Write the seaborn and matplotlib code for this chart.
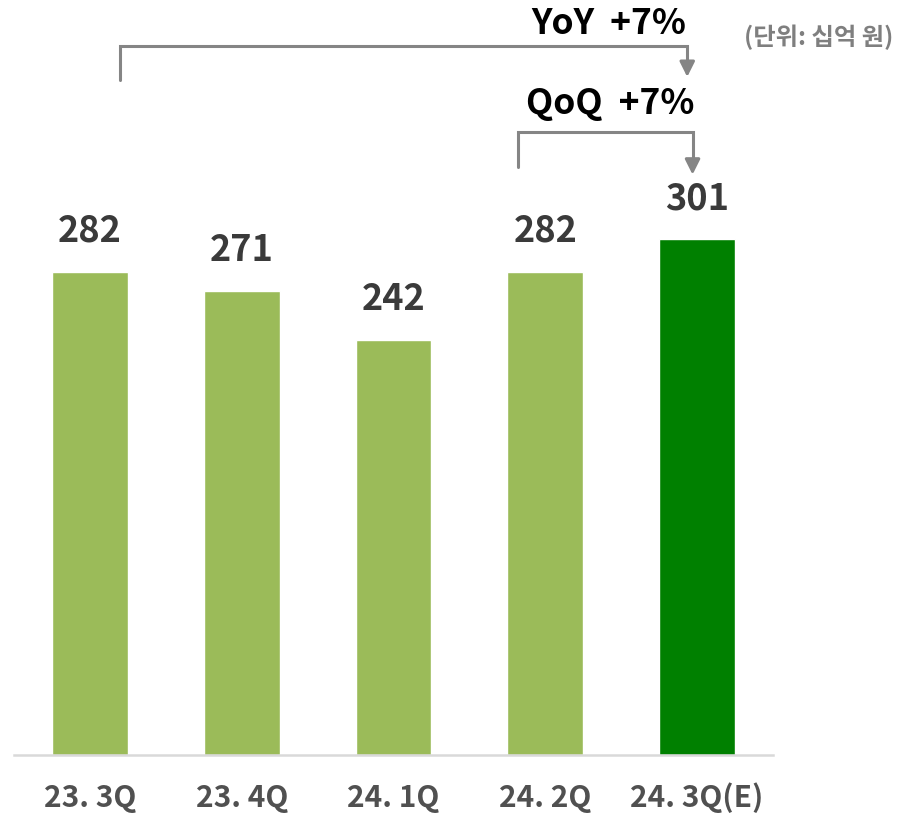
import pandas as pd
import seaborn as sns
import matplotlib.pyplot as plt

# 데이터
quarters = ['23. 3Q', '23. 4Q', '24. 1Q', '24. 2Q', '24. 3Q(E)']
values = [282, 271, 242, 282, 301]
bar_colors = ['#9BBB59', '#9BBB59', '#9BBB59', '#9BBB59', '#008000']
yoy_label = 'YoY  +7%'
qoq_label = 'QoQ  +7%'
unit_label = '(단위: 십억 원)'

sns.set_style('white')
plt.rcParams['font.family'] = ['Noto Sans CJK KR', 'DejaVu Sans']

df = pd.DataFrame({'quarter': quarters, 'value': values})

fig = plt.figure(figsize=(9, 8.21), dpi=100)
ax = fig.add_axes([14 / 900, 66 / 821, 759 / 900, 755 / 821])

sns.barplot(data=df, x='quarter', y='value', hue='quarter', palette=bar_colors,
            width=0.5, legend=False, ax=ax, saturation=1)

ax.set_xlim(-0.5, 4.5)
ax.set_ylim(0, 440.5)
ax.set_xlabel('')
ax.set_ylabel('')
ax.set_yticks([])
for s in ['top', 'right', 'left']:
    ax.spines[s].set_visible(False)
ax.spines['bottom'].set_color('#D9D9D9')
ax.spines['bottom'].set_linewidth(1.8)
ax.tick_params(axis='x', length=0, pad=20)
for lbl in ax.get_xticklabels():
    lbl.set_fontsize(21.5)
    lbl.set_fontweight('bold')
    lbl.set_color('#505050')

# 값 레이블
for i, v in enumerate(values):
    ax.annotate(str(v), (i, v), xytext=(0, 29), textcoords='offset points',
                ha='center', va='center', fontsize=26, fontweight='bold',
                color='#3A3A3A', annotation_clip=False)

# 증감 괄호 화살표
gray = '#858585'
def bracket(x0, x1, y_low, y_top, y_tip):
    ax.plot([x0, x0, x1, x1], [y_low, y_top, y_top, y_tip + 9], color=gray,
            lw=2.2, clip_on=False, solid_joinstyle='miter')
    ax.annotate('', xy=(x1, y_tip), xytext=(x1, y_tip + 10),
                arrowprops=dict(arrowstyle='-|>,head_width=0.45,head_length=0.9',
                                color=gray, lw=2.2), annotation_clip=False)

bracket(0 + 0.2, 4 - 0.065, 394, 413.5, 394)
bracket(3 - 0.18, 4 - 0.03, 343, 363.5, 337)

ax.text(3.42, 427, yoy_label, ha='center', va='center', fontsize=25.5,
        fontweight='bold', color='black', clip_on=False)
ax.text(3.43, 380, qoq_label, ha='center', va='center', fontsize=25.5,
        fontweight='bold', color='black', clip_on=False)
fig.text(893 / 900, 1 - 37 / 821, unit_label, ha='right', va='center',
         fontsize=17.5, fontweight='bold', color='#7F7F7F')

plt.savefig('out.png', dpi=100)
